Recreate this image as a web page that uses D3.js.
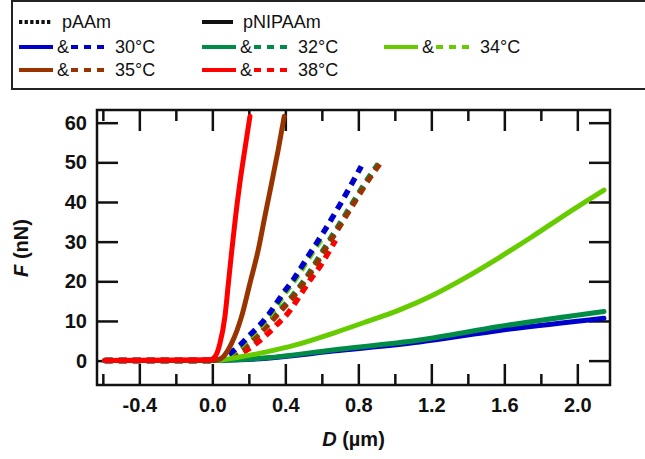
<!DOCTYPE html>
<html>
<head>
<meta charset="utf-8">
<script src="https://cdn.jsdelivr.net/npm/d3@7"></script>
<style>
  html, body { margin: 0; padding: 0; background: #fff; }
  svg { display: block; font-family: "Liberation Sans", Arial, Helvetica, sans-serif; }
</style>
</head>
<body>
<svg id="chart" width="645" height="459"></svg>
<script>
// Force–distance curves, D (µm) vs F (nN)
// pNIPAAm (solid) and pAAm (dashed) at several temperatures

const temperatures = ["30°C", "32°C", "34°C", "35°C", "38°C"];
const colors = ["#0000cc", "#008c46", "#66cc00", "#993300", "#ff0000"];

// pNIPAAm, solid curves: [D, F]
const solid30 = [[-0.59,0],[0,0],[0.15,0.2],[0.3,0.6],[0.661,2.4],[1.135,4.7],[1.572,7.6],[2.146,10.7]];
const solid32 = [[-0.59,0],[0,0],[0.15,0.25],[0.3,0.7],[0.661,2.7],[1.135,5.2],[1.572,8.6],[2.146,12.4]];
const solid34 = [[-0.59,0],[0,0],[0.15,0.9],[0.297,2.2],[0.452,3.9],[0.661,6.9],[0.85,9.9],[1.026,12.8],[1.208,16.5],[1.39,21.0],[1.572,26.0],[1.754,31.3],[1.937,36.9],[2.146,43.0]];
const solid35 = [[-0.59,0],[0,0],[0.024,0.1],[0.06,1.0],[0.106,4.4],[0.16,11.1],[0.206,19.5],[0.252,28],[0.288,36.4],[0.325,44.8],[0.361,53.2],[0.394,61.6]];
const solid38 = [[-0.59,0],[-0.013,0.2],[0.015,1.0],[0.042,4.4],[0.069,11.1],[0.088,19.5],[0.106,27.5],[0.126,35.8],[0.15,44.5],[0.178,53.2],[0.206,61.6]];

// pAAm, dashed curves: [D, F]
const dashed30 = [[-0.59,0],[0,0],[0.05,0.4],[0.097,1.8],[0.151,3.9],[0.206,6.5],[0.261,9.0],[0.306,11.5],[0.352,14.5],[0.388,17],[0.443,20.4],[0.525,26.3],[0.607,32.2],[0.689,38.5],[0.771,45.2],[0.816,49]];
const dashed32 = [[-0.59,0],[0,0],[0.052,0.4],[0.107,1.3],[0.162,3.1],[0.235,6.0],[0.298,9.0],[0.362,12.3],[0.435,16.1],[0.526,21.8],[0.608,27.9],[0.69,33.9],[0.772,40.0],[0.854,46],[0.909,49.6]];
const dashed34 = [[-0.59,0],[0,0],[0.06,0.4],[0.107,1.8],[0.161,3.9],[0.216,6.5],[0.271,9.0],[0.316,11.5],[0.362,14.5],[0.398,17],[0.453,20.4],[0.535,26.3],[0.595,30.5]];
const dashed35 = [[-0.59,0],[0,0],[0.06,0.4],[0.115,1.3],[0.17,3.1],[0.243,6.0],[0.306,9.0],[0.37,12.3],[0.443,16.1],[0.534,21.8],[0.616,27.9],[0.698,33.9],[0.78,40.0],[0.862,46],[0.917,49.6]];
const dashed38 = [[-0.59,0],[0,0],[0.05,0.3],[0.106,1.0],[0.17,2.2],[0.243,4.4],[0.297,6.5],[0.352,9],[0.406,11.5],[0.497,17.6],[0.543,20.8],[0.589,23.7],[0.634,27.1],[0.675,30.3]];

const xMajorTicks = [-0.4, 0.0, 0.4, 0.8, 1.2, 1.6, 2.0];
const xMinorTicks = [-0.6, -0.2, 0.2, 0.6, 1.0, 1.4, 1.8];
const yTicks = [0, 10, 20, 30, 40, 50, 60];

const svg = d3.select("#chart");
const plotLeft = 97, plotRight = 610, plotTop = 110, plotBottom = 385;

const x = d3.scaleLinear().domain([-0.632, 2.179]).range([plotLeft, plotRight]);
const y = d3.scaleLinear().domain([-6.15, 63.2]).range([plotBottom, plotTop]);

const line = d3.line().x(d => x(d[0])).y(d => y(d[1])).curve(d3.curveMonotoneX);

// ---- legend ----
const legend = svg.append("g");
legend.append("rect").attr("x", 12).attr("y", 1).attr("width", 700).attr("height", 88)
  .attr("fill", "none").attr("stroke", "#222").attr("stroke-width", 2);

const legFont = 18;
function legText(tx, ty, s) {
  legend.append("text").attr("x", tx).attr("y", ty).attr("font-size", legFont)
    .attr("fill", "#111").text(s);
}
function legLine(x1, x2, ly, color, dash) {
  const l = legend.append("line").attr("x1", x1).attr("x2", x2).attr("y1", ly).attr("y2", ly)
    .attr("stroke", color).attr("stroke-width", 4);
  if (dash) l.attr("stroke-dasharray", dash);
}
legLine(19, 52, 22, "#111", "3.3,2.3");
legText(62, 28, "pAAm");
legLine(202, 233, 22, "#111", null);
legText(243, 28, "pNIPAAm");

const legCols = [19, 202, 384];
const legRows = [47, 70];
temperatures.forEach((t, i) => {
  const col = i < 3 ? legCols[i] : legCols[i - 3];
  const row = i < 3 ? legRows[0] : legRows[1];
  legLine(col, col + 34, row, colors[i], null);
  legText(col + 38, row + 6, "&");
  legLine(col + 52, col + 86, row, colors[i], "7,6");
  legText(col + 96, row + 6, t);
});

// ---- axes ----
const tickFont = 20;
function styleAxis(g) {
  g.select(".domain").remove();
  g.selectAll("line").attr("stroke", "#111").attr("stroke-width", 2.5);
  g.selectAll("text").attr("font-size", tickFont).attr("font-weight", "bold").attr("fill", "#111")
    .attr("font-family", "\"Liberation Sans\", Arial, sans-serif");
}
const fmt = d3.format(".1f");
// bottom: major with labels, minor without
svg.append("g").attr("transform", `translate(0,${plotBottom})`)
  .call(d3.axisBottom(x).tickValues(xMajorTicks).tickSize(-21).tickPadding(13)
    .tickFormat(d => fmt(d).replace("−", "-")))
  .call(styleAxis);
svg.append("g").attr("transform", `translate(0,${plotBottom})`)
  .call(d3.axisBottom(x).tickValues(xMinorTicks).tickSize(-11).tickFormat(""))
  .call(styleAxis);
// top
svg.append("g").attr("transform", `translate(0,${plotTop})`)
  .call(d3.axisTop(x).tickValues(xMajorTicks).tickSize(-21).tickFormat(""))
  .call(styleAxis);
svg.append("g").attr("transform", `translate(0,${plotTop})`)
  .call(d3.axisTop(x).tickValues(xMinorTicks).tickSize(-11).tickFormat(""))
  .call(styleAxis);
// left
svg.append("g").attr("transform", `translate(${plotLeft},0)`)
  .call(d3.axisLeft(y).tickValues(yTicks).tickSize(-21).tickPadding(10).tickFormat(d3.format("d")))
  .call(styleAxis);
// right
svg.append("g").attr("transform", `translate(${plotRight},0)`)
  .call(d3.axisRight(y).tickValues(yTicks).tickSize(-21).tickFormat(""))
  .call(styleAxis);

// frame
svg.append("rect").attr("x", plotLeft).attr("y", plotTop)
  .attr("width", plotRight - plotLeft).attr("height", plotBottom - plotTop)
  .attr("fill", "none").attr("stroke", "#111").attr("stroke-width", 2.5);

// axis titles
const yTitle = svg.append("text").attr("transform", "translate(28,248) rotate(-90)")
  .attr("text-anchor", "middle").attr("font-size", 20).attr("font-weight", "bold").attr("fill", "#111");
yTitle.append("tspan").attr("font-style", "italic").text("F");
yTitle.append("tspan").text(" (nN)");

const xTitle = svg.append("text").attr("x", (plotLeft + plotRight) / 2).attr("y", 446)
  .attr("text-anchor", "middle").attr("font-size", 20).attr("font-weight", "bold").attr("fill", "#111");
xTitle.append("tspan").attr("font-style", "italic").text("D");
xTitle.append("tspan").text(" (µm)");

// ---- curves ----
const curves = svg.append("g");
const dashedSets = [[dashed38, 4], [dashed32, 1], [dashed35, 3], [dashed34, 2], [dashed30, 0]];
dashedSets.forEach(([data, ci]) => {
  curves.append("path").datum(data).attr("d", line)
    .attr("fill", "none").attr("stroke", colors[ci]).attr("stroke-width", 5.5)
    .attr("stroke-dasharray", "8,6").attr("stroke-linejoin", "round");
});
const solidSets = [[solid30, 0], [solid32, 1], [solid34, 2], [solid35, 3], [solid38, 4]];
solidSets.forEach(([data, ci]) => {
  curves.append("path").datum(data).attr("d", line)
    .attr("fill", "none").attr("stroke", colors[ci]).attr("stroke-width", 5)
    .attr("stroke-linecap", "round").attr("stroke-linejoin", "round");
});
</script>
</body>
</html>
